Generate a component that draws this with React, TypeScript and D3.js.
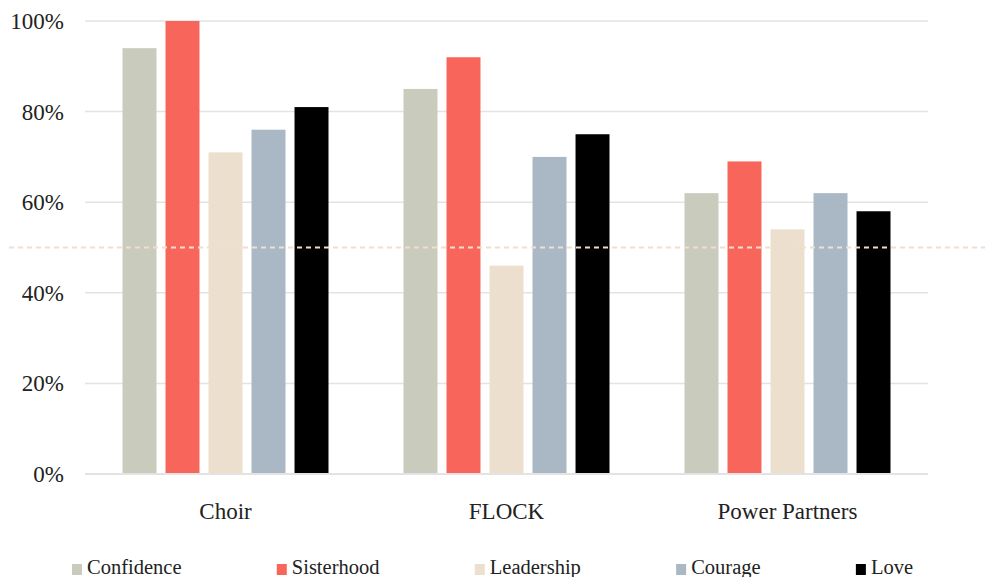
import React, { useEffect, useRef } from "react";
import * as d3 from "d3";

const categories = ["Choir", "FLOCK", "Power Partners"];
const seriesNames = ["Confidence", "Sisterhood", "Leadership", "Courage", "Love"];
const confidence = [94, 85, 62];
const sisterhood = [100, 92, 69];
const leadership = [71, 46, 54];
const courage = [76, 70, 62];
const love = [81, 75, 58];
const yTicks = [0, 20, 40, 60, 80, 100];
const referenceValue = 50;
const colors = ["#c9cbbd", "#f8655a", "#eddfcd", "#a9b8c4", "#000000"];

const W = 985;
const H = 577;
const FONT = "Liberation Serif, DejaVu Serif, serif";

export default function App() {
  const ref = useRef<SVGSVGElement>(null);

  useEffect(() => {
    const svg = d3.select(ref.current);
    svg.selectAll("*").remove();
    const values = [confidence, sisterhood, leadership, courage, love];
    const margin = { left: 85, right: 57, top: 21, bottom: 103 };
    const innerW = W - margin.left - margin.right;
    const innerH = H - margin.top - margin.bottom;

    const x0 = d3.scaleBand().domain(categories).range([margin.left, margin.left + innerW]).paddingInner(0).paddingOuter(0);
    const x1 = d3.scaleBand().domain(seriesNames).range([37.5, x0.bandwidth() - 37.5]).paddingInner(0.21).paddingOuter(0);
    const y = d3.scaleLinear().domain([0, 100]).range([margin.top + innerH, margin.top]);

    svg.append("g").selectAll("line").data(yTicks).join("line")
      .attr("x1", margin.left).attr("x2", margin.left + innerW)
      .attr("y1", (d) => y(d)).attr("y2", (d) => y(d))
      .attr("stroke", "#e3e3e3").attr("stroke-width", (d) => (d === 0 ? 2 : 1.5));

    svg.append("g").selectAll("text").data(yTicks).join("text")
      .attr("x", 64).attr("y", (d) => y(d)).attr("dy", "0.35em")
      .attr("text-anchor", "end")
      .attr("font-family", FONT).attr("font-size", 23).attr("fill", "#222")
      .text((d) => d + "%");

    const g = svg.append("g");
    seriesNames.forEach((s, si) => {
      g.append("g").selectAll("rect").data(values[si]).join("rect")
        .attr("x", (_d, i) => (x0(categories[i]) as number) + (x1(s) as number))
        .attr("width", x1.bandwidth())
        .attr("y", (d) => y(d))
        .attr("height", (d) => y(0) - y(d) - 1)
        .attr("fill", colors[si]);
    });

    svg.append("line")
      .attr("x1", 9).attr("x2", W)
      .attr("y1", y(referenceValue)).attr("y2", y(referenceValue))
      .attr("stroke", "#ede0cf").attr("stroke-width", 2)
      .attr("stroke-dasharray", "5,4");

    svg.append("g").selectAll("text").data(categories).join("text")
      .attr("x", (d) => (x0(d) as number) + x0.bandwidth() / 2)
      .attr("y", 519)
      .attr("text-anchor", "middle")
      .attr("font-family", FONT).attr("font-size", 23).attr("fill", "#222")
      .text((d) => d);

    const lg = svg.append("g");
    const items = seriesNames.map((s, i) => {
      const it = lg.append("g");
      it.append("rect").attr("x", 0).attr("y", -10).attr("width", 10).attr("height", 11).attr("fill", colors[i]);
      const t = it.append("text").attr("x", 15).attr("y", 0)
        .attr("font-family", FONT).attr("font-size", 20.5).attr("fill", "#222").text(s);
      const w = 15 + (t.node() as SVGTextElement).getComputedTextLength();
      return { it, w };
    });
    const left = 72;
    const right = 913;
    const gap = (right - left - d3.sum(items, (d) => d.w)) / (items.length - 1);
    let cx = left;
    items.forEach((d) => {
      d.it.attr("transform", `translate(${cx},574)`);
      cx += d.w + gap;
    });
  }, []);

  return (
    <svg ref={ref} width={W} height={H} style={{ position: "absolute", left: 0, top: 0, background: "#fff" }} />
  );
}
